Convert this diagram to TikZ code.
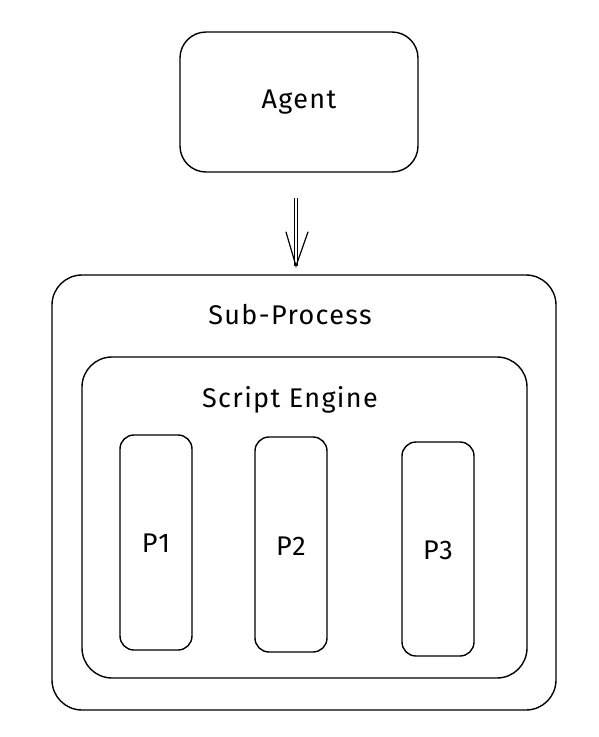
\documentclass[tikz,border=0pt]{standalone}
\usepackage{fontspec}
\setmainfont{Fira Sans}
\begin{document}
\begin{tikzpicture}[x=1pt,y=-1pt,
  sketch/.style={draw=black, line width=1.4pt, rounded corners=#1, fill=none},
  sketch/.default=24pt,
  lbl/.style={font=\fontsize{27}{32}\selectfont\addfontfeature{LetterSpace=5}}]
\useasboundingbox[fill=white] (0,0) rectangle (599,737);
% Agent
\draw[sketch=26pt] (180,32) rectangle (418,172);
\node[lbl] (agent) at (299,102) {Agent};
\coordinate (agentbox) at (299,172);
% Sub-Process
\draw[sketch=30pt] (52,275) rectangle (556,710);
\coordinate (subtop) at (296,266);
\node[lbl] (sub) at (290,315) {Sub-Process};
% Script Engine
\draw[sketch=30pt] (82,357) rectangle (527,678);
\node[lbl] (eng) at (290,400) {Script Engine};
% P boxes
\draw[sketch=14pt] (120,435) rectangle (192,650);
\node[lbl] (p1) at (156,543) {P1};
\draw[sketch=14pt] (255,437) rectangle (327,652);
\node[lbl] (p2) at (291,546) {P2};
\draw[sketch=14pt] (402,442) rectangle (474,656);
\node[lbl] (p3) at (438,550) {P3};
% Arrow
\coordinate (a0) at (296,198);
\draw[line width=1.2pt] ([xshift=-1.5pt]a0) -- ([xshift=-1.5pt]subtop);
\draw[line width=1.2pt] ([xshift=1.5pt]a0) -- ([xshift=1.5pt]subtop);
\draw[line width=1.2pt, line cap=round] (286,232) -- (subtop) -- (308,232);
\end{tikzpicture}
\end{document}
